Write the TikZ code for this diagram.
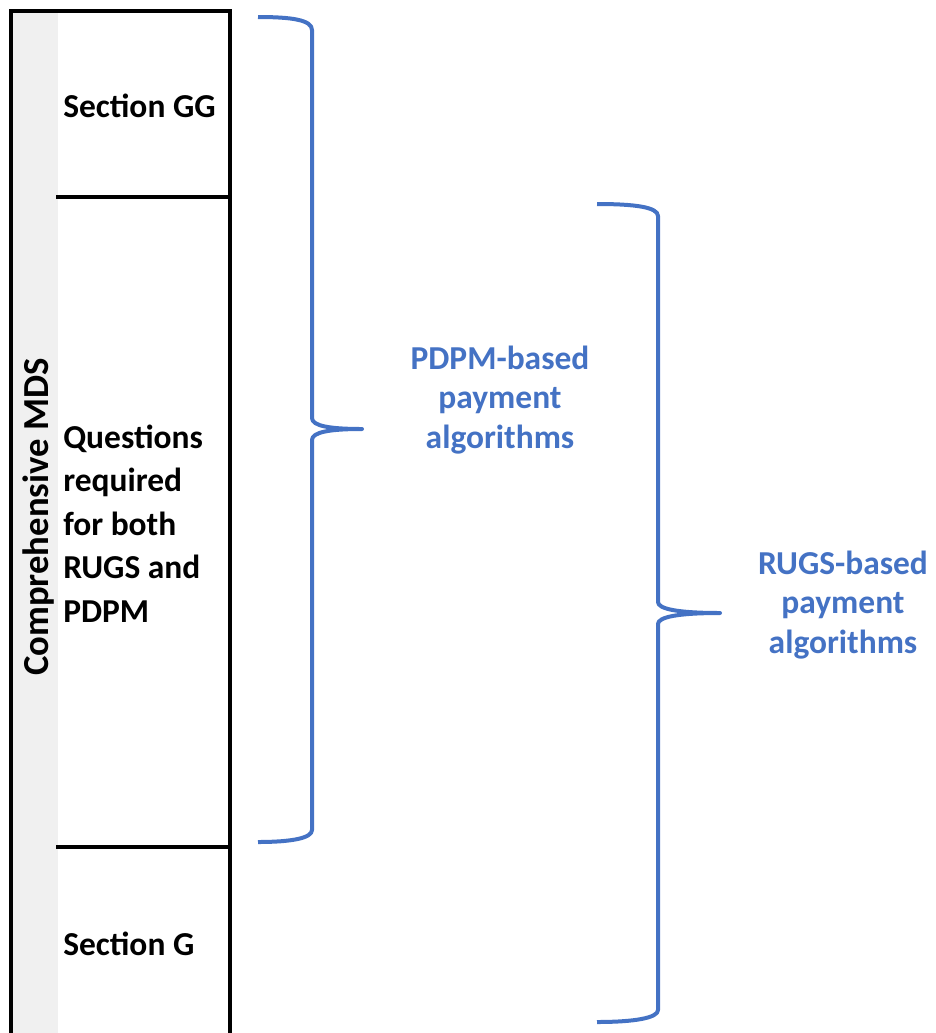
\documentclass[tikz,border=0pt]{standalone}
\usepackage{fontspec}
\setmainfont{Carlito}
\definecolor{bracecol}{HTML}{4472C4}
\definecolor{bandgray}{HTML}{F0F0F0}
\begin{document}
\begin{tikzpicture}[x=0.75pt,y=-0.75pt,
  frame/.style={line width=3pt,black},
  bracepath/.style={line width=3pt,bracecol,line cap=butt,line join=round},
  lbl/.style={inner sep=0pt,font=\fontsize{25.1}{32.6}\selectfont\bfseries},
  bluelbl/.style={inner sep=0pt,text=bracecol,align=center,font=\fontsize{25.1}{29.6}\selectfont\bfseries}]
\useasboundingbox (0,0) rectangle (936,1033);
% gray band
\fill[bandgray] (12,12) rectangle (58,1033);
% frame
\draw[frame] (10.5,1033) -- (10.5,10.5) -- (230,10.5) -- (230,1033);
\draw[frame] (56,197) -- (230,197);
\draw[frame] (56,847) -- (230,847);
% labels
\node[inner sep=0pt,font=\fontsize{27.5}{33}\selectfont\bfseries,anchor=base,rotate=90] (mds) at (48,517) {Comprehensive MDS};
\node[lbl,anchor=base west] (gg) at (63,117) {Section GG};
\node[lbl,anchor=base west,align=left] (q) at (63,622) {Questions\\required\\for both\\RUGS and\\PDPM};
\node[lbl,anchor=base west] (g) at (63,955) {Section G};
\node[bluelbl,anchor=base] (pdpm) at (500,448) {PDPM-based\\payment\\algorithms};
\node[bluelbl,anchor=base] (rugs) at (843,653) {RUGS-based\\payment\\algorithms};
% brace 1
\coordinate (b1top) at (258,17);
\coordinate (b1tip) at (362,429);
\coordinate (b1bot) at (258,842);
\draw[bracepath] (b1top) .. controls (292,17) and (312,20) .. (312,30)
  -- (312,418) .. controls (312,426) and (330,429) .. (b1tip)
  .. controls (330,429) and (312,432) .. (312,440)
  -- (312,830) .. controls (312,838) and (292,842) .. (b1bot);
% brace 2
\coordinate (b2top) at (597,204);
\coordinate (b2tip) at (720,613);
\coordinate (b2bot) at (597,1022);
\draw[bracepath] (b2top) .. controls (634,204) and (658,207) .. (658,216)
  -- (658,602) .. controls (658,609) and (678,613) .. (b2tip)
  .. controls (678,613) and (658,617) .. (658,624)
  -- (658,1010) .. controls (658,1018) and (634,1022) .. (b2bot);
\end{tikzpicture}
\end{document}
